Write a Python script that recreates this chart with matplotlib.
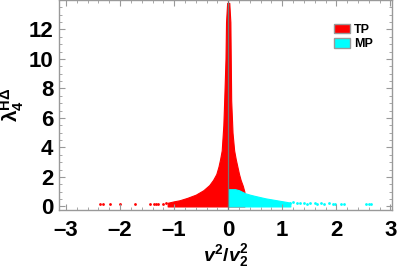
import numpy as np
import matplotlib.pyplot as plt
from matplotlib.patches import Patch
from matplotlib.ticker import MultipleLocator, FixedLocator

plt.rcParams['font.family'] = ['Liberation Sans', 'DejaVu Sans']
plt.rcParams['font.weight'] = 'bold'
plt.rcParams['mathtext.fontset'] = 'custom'
plt.rcParams['mathtext.rm'] = 'Liberation Sans:bold'
plt.rcParams['mathtext.it'] = 'Liberation Sans:bold:italic'
plt.rcParams['mathtext.bf'] = 'Liberation Sans:bold'

# upper envelope of the dense TP cloud
tp_x = [-1.12, -1.0, -0.9, -0.76, -0.6, -0.46, -0.35, -0.28, -0.22, -0.18, -0.15,
        -0.12, -0.09, -0.074, -0.05, -0.04, -0.02, 0.02, 0.04, 0.05, 0.055, 0.08,
        0.11, 0.14, 0.17, 0.2, 0.23, 0.27, 0.3]
tp_top = [0.25, 0.35, 0.42, 0.58, 0.8, 1.1, 1.45, 1.8, 2.2, 2.7, 3.2,
          3.8, 5.5, 7.2, 10.0, 12.5, 13.8, 13.8, 12.5, 9.0, 7.2, 5.0,
          3.8, 3.2, 2.7, 2.2, 1.8, 1.4, 1.0]
# upper envelope of the dense MP cloud
mp_x = [0.0, 0.13, 0.2, 0.31, 0.4, 0.5, 0.69, 0.93, 1.09, 1.15]
mp_top = [1.17, 1.17, 1.1, 0.9, 0.8, 0.71, 0.55, 0.4, 0.3, 0.25]

# sparse points in the tails
tp_pts_x = [-2.37, -2.31, -2.19, -2.0, -1.72, -1.44, -1.38, -1.33, -1.29, -1.2, -1.15]
tp_pts_y = [0.17, 0.18, 0.15, 0.17, 0.2, 0.16, 0.18, 0.2, 0.19, 0.2, 0.22]
mp_pts_x = [1.15, 1.2, 1.28, 1.33, 1.4, 1.45, 1.52, 1.6, 1.65, 1.72, 1.78, 1.87,
            1.93, 1.98, 2.08, 2.15, 2.55, 2.6, 2.64]
mp_pts_y = [0.25, 0.28, 0.22, 0.26, 0.24, 0.2, 0.23, 0.25, 0.2, 0.22, 0.2, 0.21,
            0.18, 0.2, 0.19, 0.2, 0.2, 0.18, 0.2]

yticks = [0, 2, 4, 6, 8, 10, 12]

red = '#ff0000'
cyan = '#00ffff'
gray = '#999999'

fig = plt.figure(figsize=(3.99, 2.70), dpi=100)
ax = fig.add_axes([59 / 399, 60 / 270, 333 / 399, 210 / 270])

ax.fill_between(tp_x, 0, tp_top, color=red, lw=0.8, edgecolor=red)
ax.scatter(tp_pts_x, tp_pts_y, s=4, color=red, lw=0)
ax.fill_between(mp_x, 0, mp_top, color=cyan, lw=0.8, edgecolor=cyan)
ax.scatter(mp_pts_x, mp_pts_y, s=4, color=cyan, lw=0)
ax.axvline(0, color='#777777', lw=0.9)

ax.set_xlim(-3.13, 3.03)
ax.set_ylim(-0.24, 14.0)
ax.xaxis.set_major_locator(MultipleLocator(1))
ax.xaxis.set_minor_locator(MultipleLocator(0.2))
ax.yaxis.set_major_locator(FixedLocator(yticks))
ax.yaxis.set_minor_locator(MultipleLocator(0.5))
ax.tick_params(which='both', direction='in', top=True, right=True, color=gray,
               labelsize=16)
ax.tick_params(axis='x', pad=7)
ax.tick_params(axis='y', pad=4)
ax.tick_params(which='major', length=4, width=0.8)
ax.tick_params(which='minor', length=2, width=0.6)
for s in ax.spines.values():
    s.set_color(gray)
    s.set_linewidth(1.0)
ax.xaxis.set_major_formatter(plt.FuncFormatter(lambda v, p: f'{v:.0f}'.replace('-', '\u2013')))

ax.set_xlabel(r'$v^2/v_2^2$', fontsize=14, labelpad=1)
ax.set_ylabel(r'$\mathrm{\lambda}_4^{\mathrm{H\Delta}}$', fontsize=15, labelpad=2)

handles = [Patch(facecolor=red, edgecolor=gray, lw=1.0, label='TP'),
           Patch(facecolor=cyan, edgecolor=gray, lw=1.0, label='MP')]
ax.legend(handles=handles, loc='upper left', bbox_to_anchor=(0.81, 0.91), frameon=False,
          fontsize=9, handlelength=1.3, handleheight=0.75, handletextpad=0.3,
          labelspacing=0.2, borderaxespad=0)

fig.savefig('out.png', dpi=100)
